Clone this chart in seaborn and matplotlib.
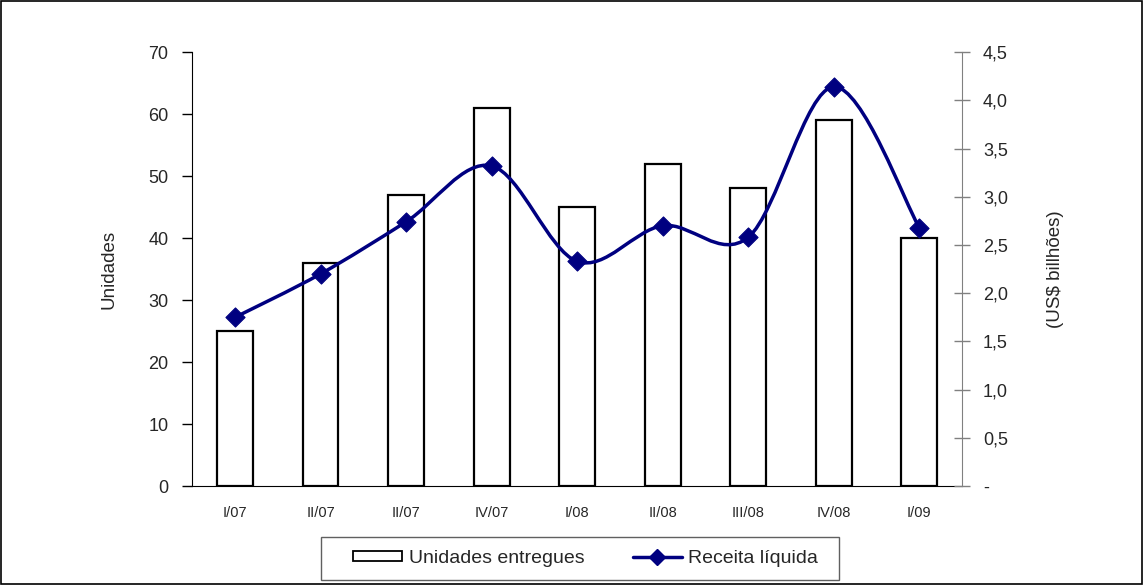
import numpy as np
import seaborn as sns
import matplotlib.pyplot as plt
from matplotlib.path import Path
from matplotlib.patches import PathPatch, Patch, Rectangle
from matplotlib.lines import Line2D
from matplotlib.ticker import FixedLocator, FuncFormatter

# dados
trimestres = ["I/07", "II/07", "II/07", "IV/07", "I/08", "II/08", "III/08", "IV/08", "I/09"]
unidades = [25, 36, 47, 61, 45, 52, 48, 59, 40]
receita = [1.75, 2.20, 2.74, 3.32, 2.33, 2.70, 2.58, 4.14, 2.68]

sns.set_style("white")
plt.rcParams['font.family'] = ['Liberation Sans', 'DejaVu Sans']
navy = "#000080"

fig = plt.figure(figsize=(11.44, 5.85), dpi=100)
ax = fig.add_axes([0.168, 0.169, 0.673, 0.742])
ax2 = ax.twinx()

pos = list(range(len(trimestres)))
sns.barplot(x=pos, y=unidades, color="white", edgecolor="black", linewidth=1.6,
            width=0.42, saturation=1, ax=ax)

# linha suavizada (Bezier, estilo Excel)
pts = list(zip(pos, receita))
verts = [pts[0]]
codes = [Path.MOVETO]
for i in range(len(pts) - 1):
    p0 = pts[i - 1] if i > 0 else pts[i]
    p1, p2 = pts[i], pts[i + 1]
    p3 = pts[i + 2] if i + 2 < len(pts) else pts[i + 1]
    c1 = (p1[0] + (p2[0] - p0[0]) / 6, p1[1] + (p2[1] - p0[1]) / 6)
    c2 = (p2[0] - (p3[0] - p1[0]) / 6, p2[1] - (p3[1] - p1[1]) / 6)
    verts += [c1, c2, p2]
    codes += [Path.CURVE4] * 3
ax2.add_patch(PathPatch(Path(verts, codes), facecolor="none", edgecolor=navy, lw=2.5, zorder=3))
sns.scatterplot(x=pos, y=receita, marker="D", s=95, color=navy, edgecolor=navy, ax=ax2, zorder=4)

ax.set_xlim(-0.5, 8.5)
ax.set_ylim(0, 70)
ax2.set_ylim(0, 4.5)
ax.set_yticks(range(0, 71, 10))
ax2.set_yticks(np.arange(0, 4.51, 0.5))
ax2.yaxis.set_major_formatter(FuncFormatter(lambda v, p: "-" if v == 0 else f"{v:.1f}".replace(".", ",")))

ax.set_xticks(pos)
ax.set_xticklabels(trimestres, fontsize=10.5, family=['Liberation Sans Narrow', 'Liberation Sans'])
ax.xaxis.set_minor_locator(FixedLocator(np.arange(-0.5, 9, 1)))
ax.tick_params(axis="x", which="major", length=0, pad=14)
ax.tick_params(axis="x", which="minor", length=10, direction="inout", width=1, color="black")
ax.tick_params(axis="y", length=7, direction="out", width=1, color="black", labelsize=13, left=True, pad=10)
ax2.tick_params(axis="y", length=12, direction="inout", width=1, color="#808080", labelsize=13, pad=9, right=True)

for s in ["top", "right"]:
    ax.spines[s].set_visible(False)
for s in ["top", "left", "bottom"]:
    ax2.spines[s].set_visible(False)
ax.spines["left"].set_color("black")
ax.spines["bottom"].set_color("black")
ax2.spines["right"].set_color("#808080")

ax.set_xlabel("")
ax.set_ylabel("Unidades", fontsize=13.5, labelpad=22)
ax2.set_ylabel("(US$ billhões)", fontsize=13.5, labelpad=28)

handles = [Patch(facecolor="white", edgecolor="black", linewidth=1.3),
           Line2D([0], [0], color=navy, lw=2.5, marker="D", markersize=8)]
fig.legend(handles, ["Unidades entregues", "Receita líquida"], loc="center",
           bbox_to_anchor=(0.512, 0.0453), ncol=2, fontsize=14, frameon=False,
           handlelength=2.5, handleheight=0.42, handletextpad=0.35,
           columnspacing=2.5, borderpad=0.3)
# moldura da legenda
fig.patches.append(Rectangle((321 / 1144, 1 - 580 / 585), 518 / 1144, 43 / 585,
                             transform=fig.transFigure, fill=False, edgecolor="#606060", lw=1))

fig.patches.append(Rectangle((0.0005, 0.001), 0.998, 0.997, transform=fig.transFigure,
                             fill=False, edgecolor="black", lw=1.2))

fig.savefig("out.png", dpi=100)
